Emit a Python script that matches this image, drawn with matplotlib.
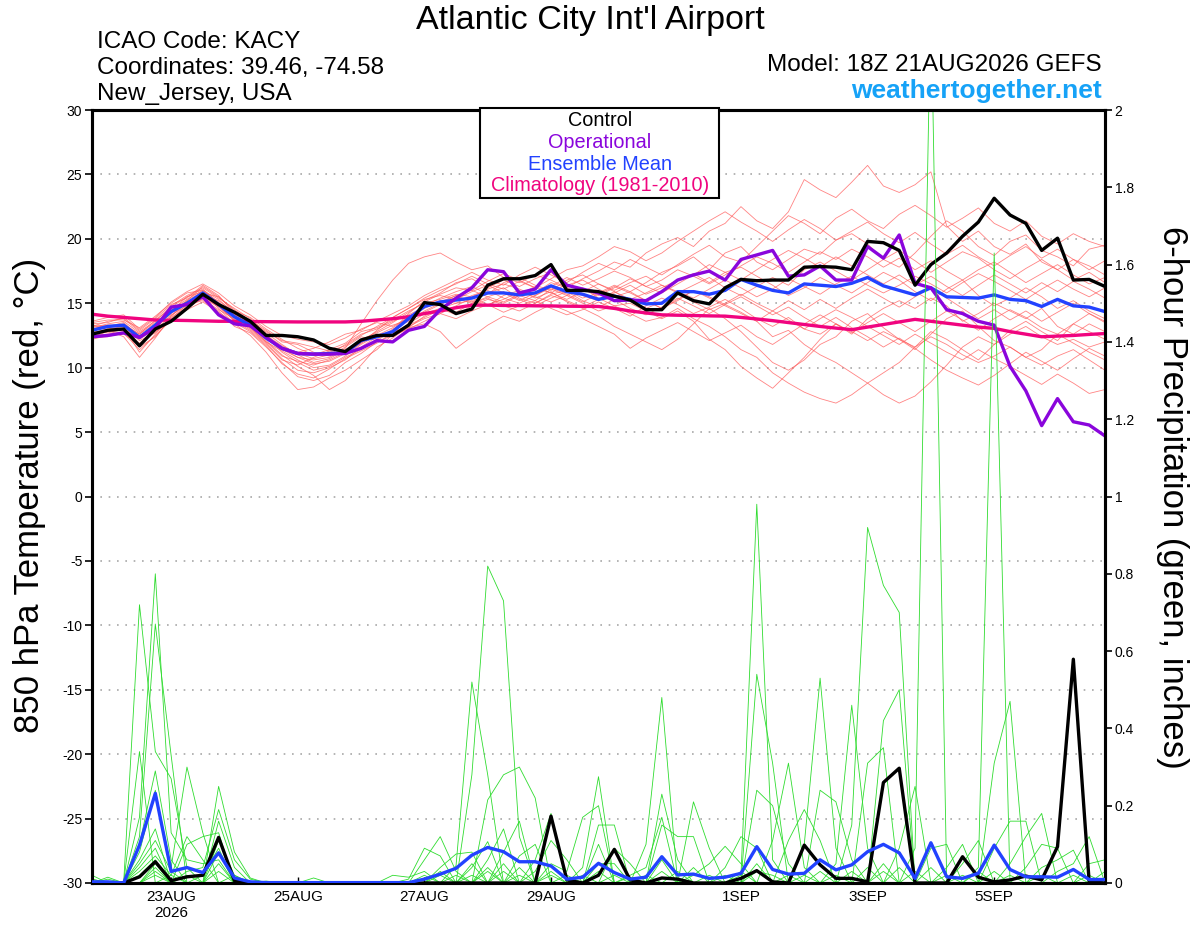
import numpy as np
import pandas as pd
import matplotlib
matplotlib.use('Agg')
import matplotlib.pyplot as plt
from matplotlib.patches import Rectangle

plt.rcParams['font.family'] = ['Liberation Sans', 'DejaVu Sans']
plt.rcParams['axes.unicode_minus'] = False

# 6-hourly forecast times, 18Z 21AUG2026 GEFS run
times = pd.date_range('2026-08-21 18:00', periods=65, freq='6h')

# ---- 850 hPa temperature (C) ----
control_t = [12.6, 12.9, 13.0, 11.7, 13.0, 13.6, 14.6, 15.7, 14.9, 14.3,
             13.6, 12.5, 12.5, 12.4, 12.15, 11.5, 11.25, 12.15, 12.5, 12.5,
             13.3, 15.05, 14.9, 14.2, 14.55, 16.4, 16.9, 16.9, 17.15, 18.0,
             16.0, 16.0, 15.9, 15.55, 15.25, 14.5, 14.5, 15.8, 15.2, 14.95,
             16.2, 16.85, 16.75, 16.8, 16.8, 17.8, 17.85, 17.8, 17.6, 19.8,
             19.7, 19.1, 16.4, 18.0, 18.9, 20.2, 21.3, 23.15, 21.85, 21.2,
             19.1, 20.05, 16.8, 16.85, 16.3]
oper_t = [12.4, 12.5, 12.7, 12.35, 13.1, 14.7, 14.9, 15.5, 14.1, 13.4,
          13.25, 12.35, 11.5, 11.1, 11.05, 11.05, 11.1, 11.5, 12.1, 12.0,
          12.9, 13.2, 14.5, 15.4, 16.2, 17.6, 17.45, 15.8, 16.1, 17.6,
          16.4, 16.1, 15.8, 15.2, 15.25, 15.2, 15.9, 16.8, 17.2, 17.5,
          16.8, 18.4, 18.75, 19.1, 17.1, 17.2, 17.9, 16.8, 16.8, 19.4,
          18.5, 20.3, 16.55, 16.2, 14.5, 14.2, 13.6, 13.3, 10.1, 8.2,
          5.5, 7.6, 5.8, 5.55, 4.7]
mean_t = [12.9, 13.2, 13.3, 12.35, 13.3, 14.35, 15.0, 15.8, 14.9, 13.95,
          13.3, 12.3, 11.5, 11.1, 11.05, 11.1, 11.15, 12.1, 12.4, 12.8,
          13.8, 14.75, 15.1, 15.25, 15.4, 15.8, 15.8, 15.65, 15.8, 16.35,
          15.9, 15.7, 15.3, 15.55, 15.3, 14.95, 15.0, 15.9, 15.9, 15.7,
          16.0, 16.85, 16.4, 16.0, 15.8, 16.5, 16.4, 16.3, 16.55, 17.0,
          16.35, 16.0, 15.65, 16.2, 15.5, 15.45, 15.4, 15.65, 15.3, 15.2,
          14.75, 15.3, 14.8, 14.7, 14.35]
clim_t = [14.15, 14.0, 13.9, 13.8, 13.7, 13.68, 13.66, 13.63, 13.6, 13.6,
          13.58, 13.57, 13.56, 13.55, 13.55, 13.55, 13.55, 13.6, 13.7, 13.8,
          13.95, 14.2, 14.4, 14.65, 14.85, 14.85, 14.83, 14.82, 14.8, 14.79,
          14.77, 14.76, 14.75, 14.6, 14.4, 14.25, 14.1, 14.07, 14.05, 14.02,
          14.0, 13.9, 13.78, 13.65, 13.5, 13.35, 13.2, 13.07, 12.95, 13.15,
          13.35, 13.55, 13.75, 13.6, 13.45, 13.3, 13.15, 13.05, 12.8, 12.6,
          12.4, 12.45, 12.5, 12.58, 12.65]

members_t = [
    [13.2, 13.6, 13.8, 12.8, 13.6, 14.8, 15.6, 16.2, 15.4, 14.6, 13.8,
     12.6, 11.4, 10.8, 10.6, 10.8, 11.5, 13.4, 15.2, 16.8, 18.1,
     18.6, 18.9, 18.2, 17.6, 17.9, 17.0, 16.6, 17.2, 16.8, 16.2,
     16.9, 17.5, 18.2, 17.8, 18.9, 19.6, 20.1, 19.4, 20.6, 21.2,
     22.5, 21.4, 20.8, 22.1, 24.6, 23.8, 23.2, 24.4, 25.7, 24.1,
     23.6, 24.2, 25.2, 21.0, 19.8, 20.6, 19.4, 18.8, 19.6, 18.2, 17.6, 18.4, 17.9, 17.2],
    [12.6, 12.9, 13.1, 11.2, 12.6, 14.0, 15.2, 15.9, 14.6, 13.4, 12.5,
     11.2, 9.6, 8.3, 8.5, 9.2, 9.8, 10.6, 11.4, 12.6, 13.4,
     14.2, 14.6, 15.0, 15.2, 14.8, 15.6, 16.0, 15.4, 15.9, 15.1,
     14.6, 14.0, 13.2, 12.6, 12.0, 11.4, 12.2, 13.4, 14.6, 13.8,
     12.8, 11.6, 10.4, 9.8, 10.6, 11.8, 12.4, 13.6, 14.2, 13.1,
     12.2, 11.4, 12.6, 13.8, 14.4, 13.2, 12.1, 11.6, 10.8, 11.4, 12.6, 11.9, 11.2, 10.6],
    [13.4, 13.5, 13.9, 12.9, 13.8, 14.9, 15.4, 16.4, 15.6, 14.2, 13.7,
     12.9, 12.0, 11.8, 11.2, 10.9, 11.6, 12.4, 12.1, 12.9, 14.2,
     15.2, 15.8, 16.6, 16.9, 16.2, 16.8, 16.3, 16.9, 17.4, 16.4,
     16.8, 16.1, 15.5, 15.9, 16.6, 17.4, 17.9, 18.6, 17.6, 18.9,
     19.4, 18.2, 17.6, 18.4, 19.2, 18.8, 19.9, 20.4, 19.6, 18.4,
     17.8, 18.9, 20.2, 21.4, 20.6, 19.4, 18.7, 19.8, 20.3, 19.1, 18.6, 17.9, 19.2, 19.5],
    [12.2, 12.5, 12.6, 11.8, 12.8, 13.6, 14.6, 15.4, 14.8, 13.6, 12.9,
     11.8, 10.6, 10.2, 10.8, 11.3, 11.0, 11.9, 12.6, 12.4, 13.1,
     14.0, 14.6, 14.1, 14.8, 15.3, 15.0, 15.6, 15.2, 16.1, 15.6,
     15.0, 14.4, 14.8, 14.2, 13.6, 13.9, 14.6, 13.8, 13.2, 12.4,
     11.4, 10.8, 9.6, 8.8, 8.1, 7.6, 7.25, 7.9, 8.8, 9.6,
     10.4, 11.6, 12.8, 12.2, 11.4, 10.6, 11.8, 12.9, 13.6, 12.8, 12.1, 13.4, 14.2, 13.6],
    [13.0, 13.3, 13.2, 12.5, 13.1, 14.2, 15.1, 15.6, 15.2, 14.3, 13.5,
     12.4, 11.2, 10.4, 9.8, 10.1, 10.8, 11.4, 12.2, 13.0, 13.6,
     14.4, 15.0, 15.6, 15.1, 15.8, 16.2, 15.4, 15.0, 15.7, 16.0,
     15.4, 15.8, 16.4, 15.9, 15.2, 14.6, 15.2, 16.0, 15.4, 14.8,
     14.2, 13.6, 12.4, 12.9, 11.8, 11.0, 10.4, 9.6, 8.8, 7.9,
     7.25, 7.8, 8.9, 10.2, 11.6, 12.4, 11.8, 12.6, 13.2, 12.4, 11.8, 12.2, 11.6, 12.0],
    [12.8, 12.7, 13.0, 11.9, 12.9, 14.1, 14.8, 15.3, 14.5, 13.8, 13.2,
     12.1, 11.0, 10.1, 9.4, 8.3, 9.0, 10.2, 11.6, 12.3, 13.2,
     13.8, 14.2, 14.8, 15.4, 14.9, 15.3, 15.9, 15.5, 15.1, 15.6,
     16.2, 15.4, 14.8, 15.0, 14.4, 13.8, 14.4, 13.6, 12.2, 11.4,
     10.1, 9.2, 8.4, 9.6, 10.8, 12.2, 13.4, 12.6, 13.8, 14.6,
     15.2, 14.6, 15.4, 14.8, 13.6, 14.2, 15.0, 14.4, 13.8, 14.6, 13.2, 12.6, 13.4, 12.8],
    [13.1, 13.4, 13.6, 12.7, 13.5, 14.5, 15.3, 16.0, 15.3, 14.2, 13.4,
     12.3, 11.6, 11.2, 11.5, 12.0, 12.6, 12.9, 13.6, 14.2, 14.8,
     15.6, 16.2, 16.8, 17.4, 16.8, 16.4, 17.2, 17.8, 17.2, 16.6,
     17.4, 18.1, 17.6, 18.4, 17.8, 17.2, 18.0, 18.8, 19.5, 18.6,
     18.2, 19.4, 20.6, 21.8, 21.2, 20.4, 21.6, 22.3, 21.4, 20.8,
     21.9, 22.6, 21.8, 20.9, 21.6, 22.4, 21.2, 20.6, 21.4, 20.2, 19.6, 20.4, 19.8, 19.4],
    [12.4, 12.8, 12.9, 12.2, 13.0, 14.4, 15.5, 16.1, 15.0, 13.9, 13.1,
     12.0, 10.9, 10.5, 10.2, 10.6, 11.2, 11.9, 12.9, 13.9, 14.6,
     15.3, 15.6, 15.3, 15.9, 16.4, 15.8, 15.2, 15.8, 16.6, 16.2,
     15.6, 15.2, 15.8, 16.4, 15.7, 16.2, 16.8, 17.3, 16.6, 17.4,
     17.8, 17.1, 16.4, 15.6, 16.2, 17.0, 16.4, 15.8, 16.6, 17.4,
     16.8, 15.9, 15.2, 16.1, 16.8, 15.6, 14.8, 15.4, 16.2, 15.5, 14.6, 15.2, 14.4, 13.8],
    [13.6, 13.9, 14.1, 13.0, 13.9, 15.1, 15.9, 16.5, 15.8, 14.8, 14.1,
     13.2, 12.5, 12.2, 12.0, 11.8, 12.3, 13.0, 13.5, 13.2, 13.9,
     14.8, 15.4, 15.9, 16.3, 15.7, 16.6, 17.0, 16.4, 16.0, 16.8,
     17.2, 16.5, 16.0, 16.6, 17.1, 16.4, 15.8, 16.4, 17.0, 16.2,
     15.6, 16.3, 17.0, 16.4, 17.6, 18.2, 17.5, 16.8, 17.6, 18.4,
     19.1, 18.3, 17.4, 18.2, 19.0, 18.5, 17.6, 16.9, 17.7, 18.4, 17.6, 16.8, 17.4, 16.6],
    [12.5, 12.6, 12.8, 11.6, 12.4, 13.8, 14.9, 15.2, 14.4, 13.2, 12.7,
     11.6, 10.4, 9.3, 9.0, 9.4, 10.4, 11.1, 12.0, 12.5, 13.0,
     13.6, 14.2, 13.8, 14.4, 14.9, 14.3, 14.8, 15.2, 14.6, 14.1,
     14.5, 15.1, 14.6, 14.0, 14.8, 15.4, 14.9, 14.2, 14.7, 15.3,
     14.6, 13.8, 13.2, 13.9, 13.0, 12.6, 13.4, 12.8, 12.1, 12.8,
     12.2, 11.6, 12.4, 11.8, 11.0, 10.4, 10.9, 11.6, 10.8, 10.2, 10.9, 11.4, 10.6, 9.8],
    [13.3, 13.1, 13.4, 12.6, 13.7, 14.6, 15.0, 15.8, 15.5, 14.4, 13.9,
     13.0, 12.2, 11.5, 11.0, 11.4, 11.9, 12.8, 13.1, 13.7, 14.4,
     15.0, 15.3, 15.7, 15.5, 16.1, 16.5, 16.1, 15.6, 16.3, 17.0,
     16.4, 16.9, 17.5, 17.0, 16.3, 16.8, 17.6, 17.1, 16.5, 17.2,
     17.9, 18.6, 18.1, 17.4, 18.2, 19.0, 18.4, 19.2, 18.6, 17.8,
     18.5, 17.6, 18.3, 17.5, 16.8, 17.6, 18.2, 17.4, 16.6, 17.3, 18.0, 17.2, 16.5, 17.0],
    [12.7, 13.0, 13.2, 12.1, 12.7, 13.9, 14.7, 15.4, 14.7, 13.7, 13.0,
     11.9, 10.7, 9.8, 9.6, 10.0, 10.6, 11.6, 12.4, 12.8, 13.1,
     13.4, 12.8, 11.5, 12.4, 13.3, 14.0, 13.6, 14.3, 14.9, 14.4,
     13.8, 13.2, 12.6, 11.5, 12.3, 12.9, 13.5, 12.8, 12.1, 12.7,
     13.3, 12.4, 11.8, 12.6, 13.4, 14.1, 13.4, 12.7, 13.5, 14.2,
     13.5, 12.8, 13.6, 14.4, 13.7, 12.9, 13.8, 14.5, 13.9, 13.1, 12.6, 13.4, 12.8, 12.2],
    [13.0, 13.2, 13.5, 12.4, 13.2, 14.3, 15.2, 16.3, 15.5, 14.5, 13.6,
     12.7, 11.8, 11.0, 10.4, 10.7, 11.4, 12.1, 12.8, 13.5, 14.3,
     15.1, 15.7, 16.2, 16.0, 16.7, 17.3, 16.8, 16.2, 16.9, 17.6,
     17.9, 18.6, 19.4, 19.0, 18.3, 18.9, 19.8, 20.6, 21.4, 22.1,
     21.3, 20.6, 19.8, 20.7, 21.5, 20.8, 19.9, 20.6, 21.3, 20.4,
     19.7, 20.5, 19.6, 18.8, 19.5, 18.6, 17.9, 18.7, 19.4, 18.5, 19.2, 18.4, 17.6, 18.3],
    [12.9, 13.1, 13.0, 12.3, 13.3, 14.4, 15.1, 15.7, 14.9, 14.0, 13.4,
     12.3, 11.5, 10.8, 10.3, 10.5, 11.1, 12.2, 12.7, 13.3, 13.7,
     14.3, 14.9, 15.4, 15.0, 15.5, 15.9, 15.3, 14.8, 15.4, 15.9,
     15.2, 14.7, 15.3, 14.6, 14.1, 14.7, 15.4, 14.8, 14.2, 14.9,
     15.5, 14.8, 14.1, 14.7, 13.9, 13.2, 13.9, 13.1, 12.4, 11.6,
     12.3, 11.5, 10.6, 9.8, 9.2, 8.65, 9.4, 10.3, 11.2, 10.5, 9.8, 10.7, 11.5, 10.9],
    [13.5, 13.7, 13.7, 13.1, 14.0, 15.0, 15.8, 16.0, 15.1, 14.1, 13.6,
     12.8, 12.1, 11.9, 11.6, 11.3, 11.7, 12.5, 13.2, 13.9, 14.6,
     15.4, 16.0, 16.5, 17.1, 16.5, 16.1, 16.7, 16.2, 15.8, 16.5,
     16.1, 15.6, 16.2, 16.9, 16.3, 15.8, 16.5, 17.2, 18.0, 17.4,
     16.8, 17.6, 18.4, 19.1, 18.5, 17.8, 18.6, 17.9, 17.2, 16.5,
     17.2, 16.4, 17.1, 16.3, 15.6, 16.4, 17.2, 16.5, 15.8, 16.6, 15.9, 16.7, 16.1, 15.4],
    [12.3, 12.4, 12.7, 11.4, 12.5, 13.7, 14.5, 15.1, 14.3, 13.5, 12.8,
     11.7, 10.3, 9.5, 9.2, 9.9, 10.7, 11.3, 11.9, 12.7, 13.3,
     13.9, 14.5, 14.3, 15.0, 15.4, 14.8, 14.4, 15.0, 15.6, 15.2,
     14.7, 15.3, 15.9, 15.2, 14.6, 15.1, 15.7, 15.1, 14.5, 15.0,
     15.7, 15.0, 14.4, 15.2, 14.5, 15.3, 14.6, 15.4, 16.1, 15.4,
     14.7, 15.5, 16.2, 15.4, 14.6, 13.8, 14.5, 13.7, 14.4, 13.6, 14.3, 15.0, 14.2, 13.5],
    [12.6, 12.9, 12.4, 10.8, 12.3, 14.0, 15.0, 15.5, 14.8, 13.7, 13.1,
     12.0, 11.3, 10.6, 10.0, 10.2, 10.9, 11.8, 12.5, 13.1, 13.9,
     14.6, 15.1, 15.6, 16.0, 15.5, 15.1, 15.7, 16.3, 15.8, 15.3,
     15.9, 16.5, 15.9, 15.3, 15.8, 16.4, 15.9, 15.4, 16.1, 16.8,
     16.2, 15.5, 16.1, 16.9, 16.3, 15.7, 16.5, 17.1, 16.4, 15.8,
     16.4, 17.1, 16.5, 15.8, 16.6, 17.3, 16.7, 16.0, 15.3, 16.1, 16.8, 16.1, 15.5, 16.2],
    [13.2, 13.3, 13.3, 12.6, 13.4, 14.7, 15.5, 15.9, 15.0, 14.1, 13.3,
     12.5, 11.7, 11.1, 10.7, 11.0, 11.8, 12.6, 13.0, 13.6, 14.1,
     14.7, 15.2, 15.0, 15.6, 16.0, 15.4, 15.0, 15.6, 16.2, 15.7,
     15.1, 15.7, 16.3, 15.8, 15.2, 14.6, 15.3, 16.0, 15.5, 14.9,
     14.3, 13.6, 14.4, 13.7, 13.0, 13.8, 14.5, 13.9, 13.2, 12.5,
     11.8, 12.6, 11.9, 11.2, 10.6, 11.4, 10.7, 10.1, 9.4, 8.7, 9.5, 8.8, 8.0, 8.3],
]

# ---- 6-hour precipitation (inches) ----
control_p = [0, 0, 0, 0.016, 0.055, 0.006, 0.016, 0.02, 0.118, 0.006,
             0, 0, 0, 0, 0, 0, 0, 0, 0, 0,
             0, 0, 0, 0, 0, 0, 0, 0, 0, 0.173,
             0.008, 0, 0.02, 0.087, 0.008, 0, 0.013, 0.01, 0, 0,
             0, 0.012, 0.032, 0.003, 0, 0.098, 0.047, 0.012, 0.012, 0.003,
             0.26, 0.297, 0, 0, 0, 0.068, 0.015, 0.003, 0.008, 0.018,
             0.008, 0.094, 0.579, 0.003, 0]
mean_p = [0.003, 0.003, 0.0, 0.098, 0.232, 0.03, 0.04, 0.027, 0.078, 0.013,
          0.003, 0.001, 0.001, 0.001, 0.001, 0.001, 0.001, 0.001, 0.001, 0.001,
          0.001, 0.01, 0.023, 0.038, 0.072, 0.092, 0.081, 0.055, 0.055, 0.044,
          0.01, 0.015, 0.051, 0.027, 0.01, 0.015, 0.068, 0.021, 0.023, 0.012,
          0.015, 0.025, 0.094, 0.035, 0.023, 0.025, 0.06, 0.034, 0.047, 0.081,
          0.10, 0.078, 0.012, 0.104, 0.016, 0.012, 0.025, 0.098, 0.035, 0.016,
          0.016, 0.015, 0.035, 0.009, 0.009]

members_p = [
    [0.02, 0, 0, 0.72, 0.34, 0.27, 0.04, 0, 0.03, 0,   0, 0, 0, 0, 0, 0, 0, 0, 0, 0,
     0, 0.02, 0, 0, 0.02, 0, 0.05, 0, 0, 0.02,   0, 0, 0, 0, 0.02, 0.04, 0.17, 0, 0, 0,
     0, 0, 0, 0, 0.02, 0, 0, 0, 0, 0,   0.03, 0, 0, 0.09, 0.10, 0, 0, 0, 0, 0,   0, 0, 0, 0, 0],
    [0, 0.01, 0, 0.34, 0, 0.02, 0.12, 0.06, 0, 0,   0, 0, 0, 0, 0, 0, 0, 0, 0, 0,
     0, 0, 0.03, 0, 0, 0.04, 0, 0.02, 0, 0.03,   0, 0, 0, 0, 0, 0, 0.15, 0.12, 0.12, 0,
     0, 0, 0, 0, 0, 0.02, 0, 0, 0, 0,   0, 0, 0, 0, 0.04, 0.10, 0, 0, 0, 0,   0, 0, 0, 0, 0],
    [0, 0, 0, 0.17, 0.80, 0.13, 0.06, 0.05, 0.06, 0,   0, 0, 0, 0, 0, 0, 0, 0, 0, 0,
     0, 0, 0.02, 0, 0, 0.03, 0, 0, 0, 0,   0.02, 0, 0, 0, 0, 0, 0.03, 0, 0.21, 0.09,
     0, 0, 0, 0, 0, 0, 0.03, 0, 0, 0,   0, 0, 0, 0, 0, 0.05, 0.11, 0, 0, 0,   0, 0, 0, 0, 0],
    [0, 0, 0, 0.12, 0.67, 0.33, 0, 0, 0, 0,   0, 0, 0, 0, 0, 0, 0, 0, 0, 0,
     0, 0, 0, 0.02, 0, 0, 0.03, 0, 0, 0,   0, 0.02, 0, 0, 0, 0, 0, 0, 0.02, 0.05,
     0.095, 0.05, 0, 0, 0, 0, 0, 0.02, 0, 0,   0, 0, 0, 0, 0, 0, 0.04, 1.63, 0, 0,   0, 0, 0, 0, 0],
    [0.01, 0, 0, 0.10, 0.29, 0.06, 0, 0, 0, 0,   0, 0, 0, 0, 0.013, 0, 0, 0, 0, 0,
     0, 0, 0, 0, 0.05, 0, 0, 0.04, 0, 0,   0, 0, 0.10, 0, 0, 0, 0, 0, 0, 0,
     0.04, 0.12, 0.09, 0, 0, 0, 0, 0, 0.03, 0,   0, 0, 0, 0, 0, 0, 0, 0.31, 0.47, 0,   0, 0, 0, 0, 0],
    [0, 0, 0, 0.08, 0.24, 0.04, 0.30, 0.13, 0, 0,   0, 0, 0, 0, 0, 0, 0, 0, 0, 0,
     0, 0, 0, 0, 0.04, 0.107, 0, 0, 0, 0,   0, 0, 0.05, 0.05, 0, 0, 0, 0, 0, 0,
     0, 0.02, 0.98, 0.06, 0, 0, 0, 0, 0, 0.04,   0, 0, 0, 0, 0, 0, 0, 0.09, 0.16, 0.16,   0, 0, 0, 0, 0],
    [0, 0.015, 0, 0.06, 0.14, 0, 0.10, 0.12, 0.13, 0,   0, 0, 0, 0, 0, 0, 0, 0, 0, 0,
     0, 0, 0, 0, 0, 0.06, 0.14, 0, 0, 0,   0, 0, 0.03, 0, 0, 0, 0, 0, 0, 0,
     0, 0, 0.54, 0.31, 0, 0, 0, 0, 0, 0,   0.05, 0, 0, 0, 0, 0, 0, 0, 0.05, 0.12,   0.18, 0, 0, 0, 0],
    [0, 0, 0, 0.05, 0.11, 0.03, 0, 0, 0.25, 0.08,   0.013, 0, 0, 0, 0, 0, 0, 0, 0, 0,
     0, 0, 0, 0, 0, 0, 0.08, 0.16, 0, 0,   0, 0, 0, 0.02, 0, 0, 0, 0, 0, 0,
     0, 0, 0.24, 0.20, 0.05, 0, 0, 0, 0, 0,   0, 0.04, 0, 0, 0, 0, 0, 0, 0, 0.04,   0.10, 0.09, 0, 0, 0],
    [0.01, 0, 0, 0.04, 0.09, 0, 0.03, 0.04, 0.19, 0.06,   0.01, 0, 0, 0, 0, 0, 0, 0, 0, 0,
     0, 0, 0, 0, 0, 0, 0, 0.07, 0.10, 0,   0, 0, 0, 0, 0.015, 0, 0, 0, 0, 0,
     0, 0, 0, 0.11, 0.31, 0.04, 0, 0, 0, 0,   0, 0, 0.03, 0, 0, 0, 0, 0, 0, 0,   0.04, 0.06, 0.085, 0, 0],
    [0, 0, 0, 0.03, 0.07, 0.02, 0, 0, 0.16, 0.04,   0, 0.005, 0, 0, 0, 0, 0, 0, 0, 0,
     0, 0, 0, 0, 0, 0, 0, 0, 0.06, 0.18,   0, 0, 0, 0, 0, 0.02, 0, 0, 0, 0,
     0, 0, 0, 0, 0.11, 0.19, 0.11, 0, 0, 0,   0, 0, 0, 0.04, 0, 0, 0, 0, 0, 0,   0, 0.03, 0.05, 0.12, 0],
    [0, 0, 0, 0.02, 0.06, 0, 0.02, 0, 0.11, 0.02,   0, 0, 0, 0, 0, 0, 0, 0, 0, 0,
     0, 0, 0, 0, 0, 0, 0, 0, 0.03, 0.11,   0.06, 0, 0, 0, 0, 0, 0.06, 0, 0, 0,
     0, 0, 0, 0, 0, 0.10, 0.53, 0.09, 0, 0,   0, 0, 0, 0, 0.02, 0, 0, 0, 0, 0,   0, 0, 0, 0.05, 0.06],
    [0, 0, 0, 0, 0.05, 0, 0, 0.02, 0.09, 0,   0, 0, 0, 0, 0, 0, 0, 0, 0, 0.02,
     0.015, 0.03, 0, 0, 0, 0, 0, 0, 0, 0.05,   0.03, 0.17, 0.20, 0, 0, 0, 0, 0.03, 0, 0,
     0, 0, 0, 0, 0, 0, 0.24, 0.21, 0.06, 0,   0, 0, 0, 0, 0, 0.02, 0, 0, 0, 0,   0, 0, 0, 0, 0.03],
    [0, 0, 0, 0, 0.04, 0, 0, 0, 0.08, 0,   0, 0, 0, 0, 0, 0, 0, 0, 0, 0,
     0.01, 0.09, 0.07, 0, 0, 0, 0, 0, 0, 0,   0, 0.04, 0.275, 0, 0, 0, 0, 0, 0.04, 0,
     0, 0, 0, 0, 0, 0, 0, 0.05, 0.46, 0.09,   0, 0, 0, 0, 0, 0, 0.03, 0, 0, 0,   0, 0, 0, 0, 0],
    [0, 0, 0, 0, 0.03, 0, 0, 0, 0.05, 0,   0, 0, 0, 0, 0, 0, 0, 0, 0, 0,
     0, 0.06, 0.12, 0.03, 0, 0, 0, 0, 0, 0,   0, 0, 0.15, 0.15, 0, 0, 0, 0, 0, 0.02,
     0, 0, 0, 0, 0, 0, 0, 0, 0.15, 0.92,   0.77, 0.70, 0, 0, 0, 0, 0, 0.03, 0, 0,   0, 0, 0, 0, 0],
    [0, 0, 0, 0, 0.02, 0, 0, 0, 0, 0.02,   0, 0, 0, 0, 0, 0, 0, 0, 0, 0,
     0, 0, 0.04, 0.075, 0.08, 0, 0, 0, 0, 0,   0, 0, 0, 0.09, 0.05, 0, 0, 0, 0, 0,
     0.02, 0, 0, 0, 0, 0, 0, 0, 0, 0.31,   0.35, 0, 0, 0, 0, 0, 0, 0, 0.02, 0,   0, 0, 0, 0, 0],
    [0, 0, 0, 0, 0, 0, 0, 0, 0, 0,   0, 0, 0, 0, 0, 0, 0, 0, 0, 0,
     0, 0, 0, 0.045, 0.52, 0.28, 0, 0, 0, 0,   0, 0, 0, 0, 0, 0.10, 0.48, 0, 0, 0,
     0, 0.03, 0, 0, 0, 0, 0, 0, 0, 0,   0.42, 0.50, 0, 0, 0, 0, 0, 0, 0, 0,   0.02, 0, 0, 0, 0],
    [0, 0, 0, 0, 0, 0, 0, 0, 0, 0,   0, 0, 0, 0, 0, 0, 0, 0, 0, 0,
     0, 0, 0, 0, 0.28, 0.82, 0.73, 0.12, 0, 0,   0, 0, 0, 0, 0, 0, 0.23, 0.06, 0, 0,
     0, 0, 0.05, 0, 0, 0, 0, 0, 0, 0,   0, 0.09, 0.25, 0, 0, 0, 0, 0, 0, 0,   0, 0, 0.02, 0, 0],
    [0, 0, 0, 0, 0, 0, 0, 0, 0, 0,   0, 0, 0, 0, 0, 0, 0, 0, 0, 0,
     0, 0, 0, 0, 0, 0.215, 0.28, 0.30, 0.22, 0,   0, 0, 0, 0, 0, 0, 0, 0, 0, 0,
     0, 0, 0.03, 0.02, 0, 0, 0, 0, 0, 0,   0, 0, 0.09, 2.3, 0, 0, 0, 0, 0, 0,   0, 0, 0, 0.02, 0],
]

tick_days = ['2026-08-23', '2026-08-25', '2026-08-27', '2026-08-29',
             '2026-09-01', '2026-09-03', '2026-09-05']
temp_ticks = list(range(-30, 31, 5))
precip_ticks = [0, 0.2, 0.4, 0.6, 0.8, 1, 1.2, 1.4, 1.6, 1.8, 2]

C_RED = '#ff5a5a'
C_GREEN = '#2fdc2f'
C_OPER = '#8a05dc'
C_MEAN = '#2242ff'
C_CLIM = '#f0047f'

fig = plt.figure(figsize=(12, 9.27), dpi=100)
ax = fig.add_axes([92 / 1200, 44 / 927, 1013 / 1200, 773 / 927])
ax2 = ax.twinx()

# temperature plume
for m in members_t:
    ax.plot(times, m, color=C_RED, lw=0.6, alpha=0.75, zorder=2)
ax.plot(times, clim_t, color=C_CLIM, lw=2.4, zorder=3)
ax.plot(times, mean_t, color=C_MEAN, lw=2.4, zorder=4)
ax.plot(times, oper_t, color=C_OPER, lw=2.4, zorder=5)
ax.plot(times, control_t, color='black', lw=2.4, zorder=6)

# precipitation plume
for m in members_p:
    ax2.plot(times, m, color=C_GREEN, lw=0.6, zorder=2)
ax2.plot(times, control_p, color='black', lw=2.4, zorder=4)
ax2.plot(times, mean_p, color=C_MEAN, lw=2.4, zorder=5)

ax.set_xlim(times[0], times[-1])
ax.set_ylim(-30, 30)
ax2.set_ylim(0, 2)
ax.set_yticks(temp_ticks)
ax2.set_yticks(precip_ticks)
ax2.set_yticklabels([f'{v:g}' for v in precip_ticks])
ax.grid(axis='y', color='#a8a8a8', linestyle=(0, (1, 4)), lw=1.2)

tick_dt = pd.to_datetime(tick_days)
ax.set_xticks(tick_dt)
labels = [f'{d.day}{d.strftime("%b").upper()}' for d in tick_dt]
labels[0] = labels[0] + '\n' + str(tick_dt[0].year)
ax.set_xticklabels(labels)

for a in (ax, ax2):
    for s in a.spines.values():
        s.set_linewidth(2.2)
ax.tick_params(axis='y', direction='out', length=5, width=1.2, labelsize=10, pad=2)
ax2.tick_params(axis='y', direction='out', length=5, width=1.2, labelsize=10, pad=2)
ax.tick_params(axis='x', direction='in', length=4, width=1, labelsize=11, pad=5)

fig.text(30 / 1200, 1 - 495 / 927, '850 hPa Temperature (red, °C)', rotation=90,
         ha='center', va='center', fontsize=25)
fig.text(1172 / 1200, 1 - 497 / 927, '6-hour Precipitation (green, inches)', rotation=270,
         ha='center', va='center', fontsize=25)

# header
fig.text(590 / 1200, 1 - 20 / 927, "Atlantic City Int'l Airport", ha='center', va='center',
         fontsize=24.5)
fig.text(97 / 1200, 1 - 42 / 927, 'ICAO Code: KACY', ha='left', va='center', fontsize=17.5)
fig.text(97 / 1200, 1 - 68 / 927, 'Coordinates: 39.46, -74.58', ha='left', va='center',
         fontsize=17.5)
fig.text(97 / 1200, 1 - 94 / 927, 'New_Jersey, USA', ha='left', va='center', fontsize=17.5)
fig.text(1102 / 1200, 1 - 65 / 927, 'Model: 18Z 21AUG2026 GEFS', ha='right', va='center',
         fontsize=17.5)
fig.text(1102 / 1200, 1 - 91 / 927, 'weathertogether.net', ha='right', va='center',
         fontsize=19, fontweight='bold', color='#16a2f7')

# legend box
fig.patches.append(Rectangle((480 / 1200, 1 - 198 / 927), 239 / 1200, 90 / 927,
                             transform=fig.transFigure, facecolor='white',
                             edgecolor='black', lw=1.5, zorder=10))
leg_items = [('Control', 'black'), ('Operational', C_OPER),
             ('Ensemble Mean', C_MEAN), ('Climatology (1981-2010)', C_CLIM)]
for k, (txt, col) in enumerate(leg_items):
    fig.text(600 / 1200, 1 - (121 + 21.5 * k) / 927, txt, ha='center', va='center',
             fontsize=14.3, color=col, zorder=11)

fig.savefig('out.png', dpi=100)
